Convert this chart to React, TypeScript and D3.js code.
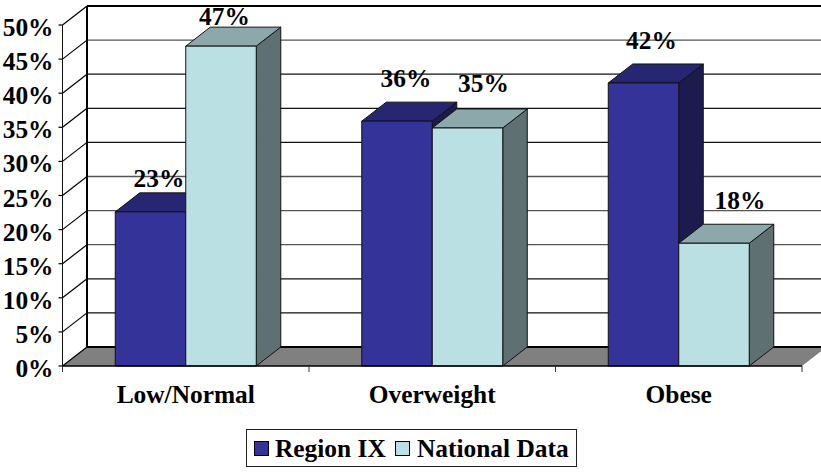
import React from "react";
import * as d3 from "d3";

const categories = ["Low/Normal", "Overweight", "Obese"];
const seriesNames = ["Region IX", "National Data"];
const regionIX = [22.6, 35.9, 41.5];
const national = [46.9, 34.9, 18];
const regionLabels = ["23%", "36%", "42%"];
const nationalLabels = ["47%", "35%", "18%"];
const yTicks = [0, 5, 10, 15, 20, 25, 30, 35, 40, 45, 50];

const W = 821, H = 472;
const left = 62.5, right = 802, y0 = 366, y50 = 25, dx = 24.5, dy = 19;
const font = "'Liberation Serif', serif";
const fs = 25.4;

const regionLabelShift = [[8.5, -25], [9, -34], [8, -34]];
const nationalLabelShift = [[3.5, -21], [16, -36], [26, -34]];
const softGrid = [45, 25, 20, 15];

const y = d3.scaleLinear().domain([0, 50]).range([y0, y50]);
const x = d3.scaleBand().domain(categories).range([left, right]);
const barW = 70.5;

const colors = [
  { front: "#333399", top: "#262673", side: "#1b1b4d" },
  { front: "#bbe0e3", top: "#8ca8aa", side: "#5e7072" },
];

const pts = (p: number[][]) => p.map((q) => q.join(",")).join(" ");

function Bar({ x0, v, c }: { x0: number; v: number; c: typeof colors[0] }) {
  const t = y(v), x1 = x0 + barW;
  const st = { stroke: "#111", strokeWidth: 1, strokeLinejoin: "round" as const };
  return (
    <g>
      <polygon points={pts([[x1, t], [x1 + dx, t - dy], [x1 + dx, y0 - dy], [x1, y0]])} fill={c.side} {...st} />
      <polygon points={pts([[x0, t], [x1, t], [x1 + dx, t - dy], [x0 + dx, t - dy]])} fill={c.top} {...st} />
      <rect x={x0} y={t} width={barW} height={y0 - t} fill={c.front} {...st} />
    </g>
  );
}

export default function App() {
  const label = { fontFamily: font, fontWeight: 700, fill: "#000" };
  return (
    <svg width={W} height={H} viewBox={`0 0 ${W} ${H}`} style={{ position: "absolute", left: 0, top: 0, background: "#fff" }}>
      {/* floor */}
      <polygon points={pts([[left, y0], [right, y0], [right + dx, y0 - dy], [left + dx, y0 - dy]])} fill="#808080" />
      {/* back wall gridlines */}
      {yTicks.filter((t) => t > 0).map((t) => (
        <line key={t} x1={left + dx} x2={W} y1={y(t) - dy} y2={y(t) - dy}
          stroke={t === 50 ? "#000" : softGrid.includes(t) ? "#555" : "#111"}
          strokeWidth={t === 50 ? 2 : 1.3} />
      ))}
      <line x1={left + dx} x2={W} y1={y0 - dy} y2={y0 - dy} stroke="#000" strokeWidth={2} />
      <line x1={left + dx} x2={left + dx} y1={y50 - dy} y2={y0 - dy} stroke="#000" strokeWidth={2} />
      {/* side wall lines and tick marks */}
      {yTicks.map((t) => (
        <g key={t}>
          <line x1={left} x2={left + dx} y1={y(t)} y2={y(t) - dy} stroke="#000" strokeWidth={1.2} />
          <line x1={left - 4} x2={left} y1={y(t)} y2={y(t)} stroke="#000" strokeWidth={1.2} />
          <text x={53.5} y={y(t) + 11} textAnchor="end" fontSize={fs} {...label}>{t}%</text>
        </g>
      ))}
      <line x1={left} x2={left} y1={y50} y2={y0} stroke="#111" strokeWidth={1} />
      {/* bars */}
      {categories.map((cat, i) => {
        const cx = x(cat)! + x.bandwidth() / 2;
        return (
          <g key={cat}>
            <Bar x0={cx - barW} v={regionIX[i]} c={colors[0]} />
            <Bar x0={cx} v={national[i]} c={colors[1]} />
          </g>
        );
      })}
      {/* front axis */}
      <line x1={left} x2={right} y1={y0} y2={y0} stroke="#000" strokeWidth={1.5} />
      {[left, ...categories.map((c) => x(c)! + x.bandwidth())].map((t, i) => (
        <line key={i} x1={t} x2={t} y1={y0} y2={y0 + 6} stroke="#333" strokeWidth={1} />
      ))}
      {/* data labels */}
      {categories.map((cat, i) => {
        const cx = x(cat)! + x.bandwidth() / 2;
        return (
          <g key={cat}>
            <text x={cx - barW / 2 + regionLabelShift[i][0]} y={y(regionIX[i]) + regionLabelShift[i][1]} textAnchor="middle" fontSize={fs} {...label}>{regionLabels[i]}</text>
            <text x={cx + barW / 2 + nationalLabelShift[i][0]} y={y(national[i]) + nationalLabelShift[i][1]} textAnchor="middle" fontSize={fs} {...label}>{nationalLabels[i]}</text>
            <text x={cx} y={403} textAnchor="middle" fontSize={fs} {...label}>{cat}</text>
          </g>
        );
      })}
      {/* legend */}
      <rect x={246.5} y={429.5} width={330} height={37} fill="#fff" stroke="#222" strokeWidth={1} />
      <rect x={254.5} y={441.5} width={14} height={14} fill={colors[0].front} stroke="#000" />
      <text x={275} y={457} fontSize={fs} {...label}>{seriesNames[0]}</text>
      <rect x={395.5} y={441.5} width={14} height={14} fill={colors[1].front} stroke="#000" />
      <text x={417} y={457} fontSize={fs} {...label}>{seriesNames[1]}</text>
    </svg>
  );
}
